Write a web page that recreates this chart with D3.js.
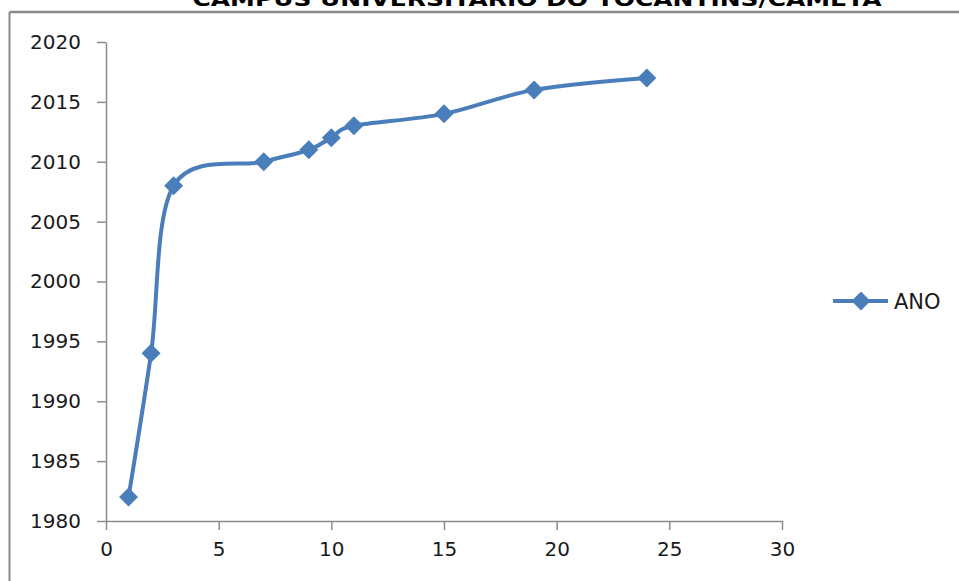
<!DOCTYPE html>
<html><head><meta charset="utf-8">
<script src="https://cdn.jsdelivr.net/npm/d3@7"></script>
<style>body{margin:0;background:#fff}svg{display:block}</style>
</head><body>
<script>
const title = "CAMPUS UNIVERSITÁRIO DO TOCANTINS/CAMETÁ";
const seriesName = "ANO";
const xValues = [1, 2, 3, 7, 9, 10, 11, 15, 19, 24];
const yValues = [1982, 1994, 2008, 2010, 2011, 2012, 2013, 2014, 2016, 2017];
const xTicks = [0, 5, 10, 15, 20, 25, 30];
const yTicks = [1980, 1985, 1990, 1995, 2000, 2005, 2010, 2015, 2020];

const W = 959, H = 581;
const svg = d3.select("body").append("svg").attr("width", W).attr("height", H);
const color = "#4A7EBB";
const axisColor = "#8c8c8c";
const font = "DejaVu Sans, Verdana, sans-serif";

// frame (partial, cropped)
svg.append("line").attr("x1", 9.5).attr("x2", W).attr("y1", 12).attr("y2", 12)
  .attr("stroke", "#8a8a8a").attr("stroke-width", 2.5);
svg.append("line").attr("x1", 9.5).attr("x2", 9.5).attr("y1", 12).attr("y2", H)
  .attr("stroke", "#8a8a8a").attr("stroke-width", 2);

svg.append("text").attr("x", 537).attr("y", 6).attr("text-anchor", "middle")
  .attr("font-family", font).attr("font-weight", "bold").attr("font-size", 20)
  .attr("textLength", 689).attr("lengthAdjust", "spacingAndGlyphs")
  .text(title);

const x = d3.scaleLinear().domain([0, 30]).range([106, 782]);
const y = d3.scaleLinear().domain([1980, 2020]).range([521, 42]);

const gx = svg.append("g").attr("transform", "translate(0,521)")
  .call(d3.axisBottom(x).tickValues(xTicks).tickFormat(d3.format("d")).tickSize(9).tickSizeOuter(0).tickPadding(12));
const gy = svg.append("g").attr("transform", "translate(106,0)")
  .call(d3.axisLeft(y).tickValues(yTicks).tickFormat(d3.format("d")).tickSize(9).tickSizeOuter(0).tickPadding(16));
[gx, gy].forEach(g => {
  g.selectAll("path,line").attr("stroke", axisColor).attr("stroke-width", 1.5);
  g.selectAll("text").attr("font-family", font).attr("font-size", 20).attr("fill", "#1a1a1a");
});

const data = xValues.map((v, i) => [v, yValues[i]]);
const line = d3.line().x(d => x(d[0])).y(d => y(d[1])).curve(d3.curveCatmullRom.alpha(0));
svg.append("path").datum(data).attr("d", line).attr("fill", "none")
  .attr("stroke", color).attr("stroke-width", 4).attr("stroke-linejoin", "round");

const diamond = d3.symbol().type(d3.symbolDiamond2).size(230);
svg.selectAll(".m").data(data).join("path")
  .attr("transform", d => `translate(${x(d[0])},${y(d[1])})`)
  .attr("d", diamond).attr("fill", color);

// legend
const lg = svg.append("g").attr("transform", "translate(833,301)");
lg.append("line").attr("x1", 0).attr("x2", 55).attr("stroke", color).attr("stroke-width", 4);
lg.append("path").attr("transform", "translate(28,0)").attr("d", diamond).attr("fill", color);
lg.append("text").attr("x", 61).attr("y", 0).attr("dy", "0.36em")
  .attr("font-family", font).attr("font-size", 21).attr("fill", "#1a1a1a").text(seriesName);
</script>
</body></html>
